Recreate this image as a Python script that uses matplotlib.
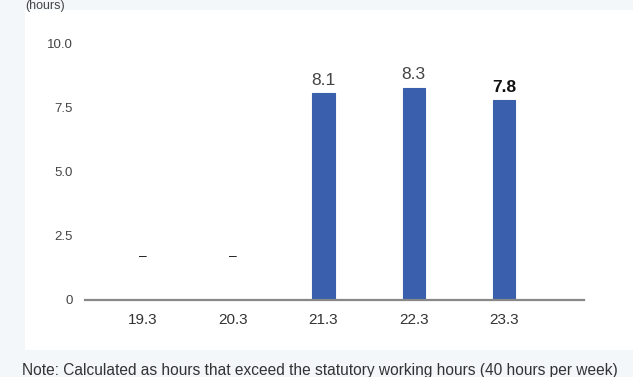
import numpy as np
import matplotlib.pyplot as plt
from matplotlib.patches import Rectangle

plt.rcParams['font.family'] = ['Liberation Sans', 'DejaVu Sans']

years = ["19.3", "20.3", "21.3", "22.3", "23.3"]
hours = [0, 0, 8.1, 8.3, 7.8]
labels = ["–", "–", "8.1", "8.3", "7.8"]
yticks = [0, 2.5, 5.0, 7.5, 10.0]
ytick_labels = ["0", "2.5", "5.0", "7.5", "10.0"]

W, H = 633, 377
fig = plt.figure(figsize=(W / 100, H / 100), dpi=100)
fig.patch.set_facecolor('#f3f7f9')

# white panel behind the chart
fig.patches.append(Rectangle((25 / W, (H - 350) / H), 1 - 25 / W, 340 / H,
                             transform=fig.transFigure, facecolor='white',
                             edgecolor='none', zorder=-5))

ax = fig.add_axes([85 / W, (H - 300) / H, (584 - 85) / W, (300 - 44) / H])
ax.set_facecolor('none')
ax.set_zorder(2)

x = np.arange(len(years))
ax.bar(x, hours, width=0.245, color='#3a5fad', edgecolor='#3a5fad', linewidth=0.8)

for i, (v, lab) in enumerate(zip(hours, labels)):
    if v == 0:
        ax.text(i, 1.72, lab, ha='center', va='center', fontsize=10, color='#222222')
    elif i == len(hours) - 1:
        ax.text(i, v + 0.2, lab, ha='center', va='bottom', fontsize=12.5,
                fontweight='bold', color='#111111')
    else:
        ax.text(i, v + 0.2, lab, ha='center', va='bottom', fontsize=12.5, color='#444444')

ax.set_xlim(-0.643, 4.886)
ax.set_ylim(0, 10)
ax.set_xticks(x)
ax.set_xticklabels(years, fontsize=11, color='#333333')
ax.set_yticks(yticks)
ax.set_yticklabels(ytick_labels, fontsize=9.5, color='#444444')
ax.tick_params(axis='both', length=0)
ax.tick_params(axis='x', pad=9)
ax.tick_params(axis='y', pad=9)

for s in ['top', 'right', 'left']:
    ax.spines[s].set_visible(False)
ax.spines['bottom'].set_color('#888888')
ax.spines['bottom'].set_linewidth(1.6)

fig.text(25 / W, 1 - 0.5 / H, "(hours)", fontsize=9, color='#444444', va='top', ha='left')
fig.text(22 / W, (H - 370) / H,
         "Note: Calculated as hours that exceed the statutory working hours (40 hours per week)",
         fontsize=11.2, color='#333333', va='center', ha='left')

fig.savefig('out.png', dpi=100, facecolor=fig.get_facecolor())
